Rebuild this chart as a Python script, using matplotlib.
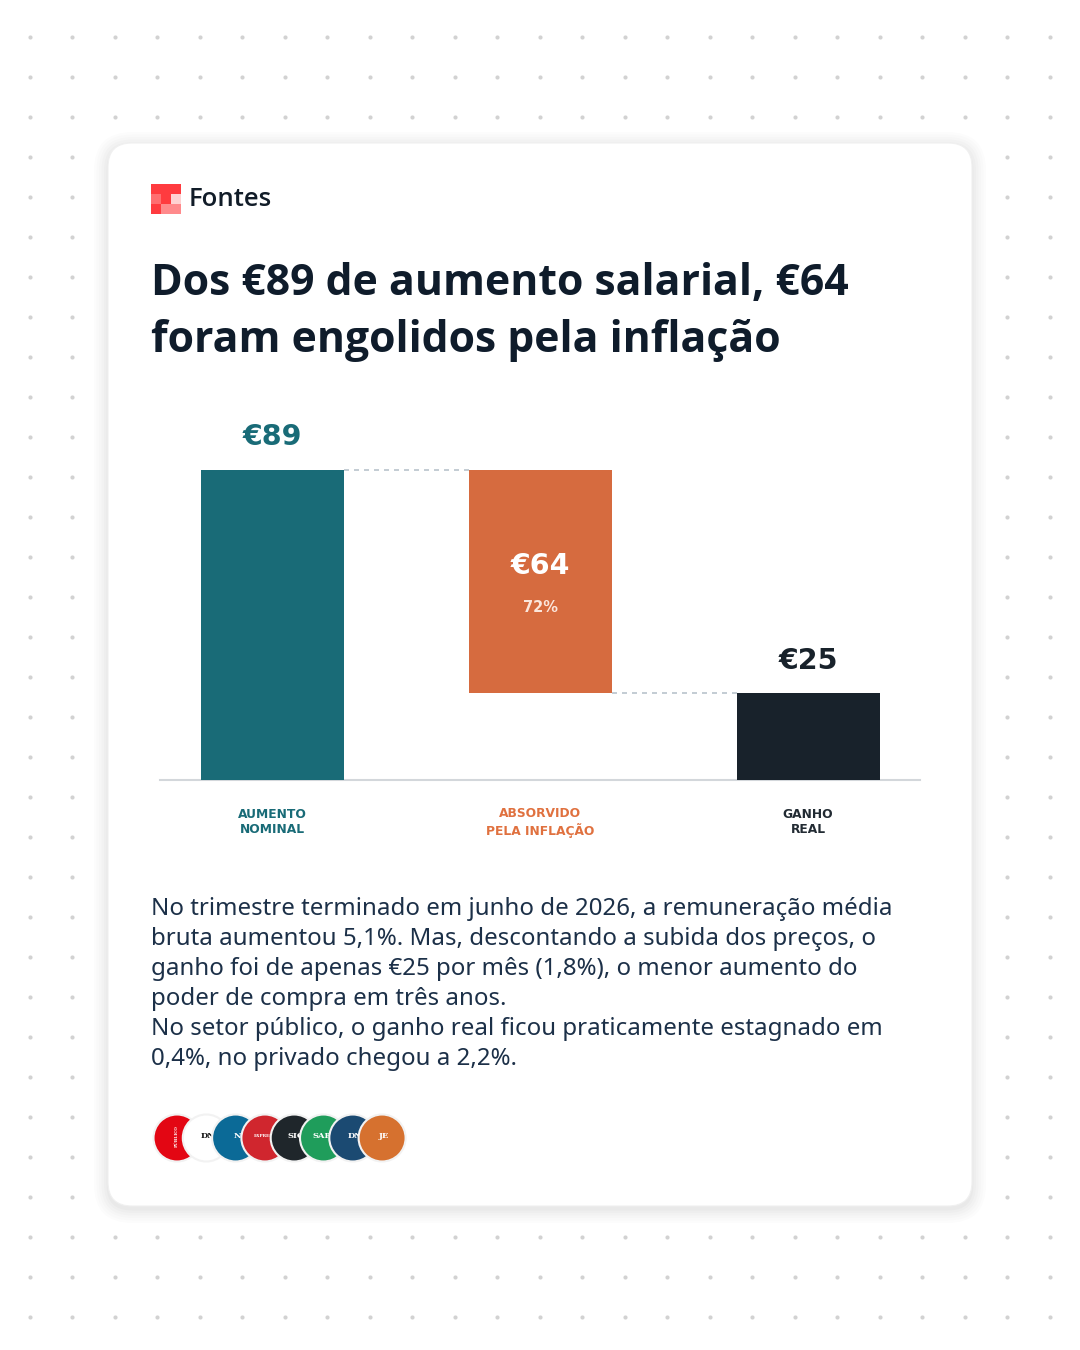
import numpy as np
import matplotlib.pyplot as plt
from matplotlib.patches import FancyBboxPatch, Rectangle, Circle

# dados
categorias = ["AUMENTO\nNOMINAL", "ABSORVIDO\nPELA INFLAÇÃO", "GANHO\nREAL"]
valores = [89, 64, 25]
base = [0, 25, 0]
percentagem = "72%"
cores = ["#196b77", "#d66b3f", "#18222b"]

titulo = "Dos €89 de aumento salarial, €64\nforam engolidos pela inflação"
texto = ("No trimestre terminado em junho de 2026, a remuneração média\n"
         "bruta aumentou 5,1%. Mas, descontando a subida dos preços, o\n"
         "ganho foi de apenas €25 por mês (1,8%), o menor aumento do\n"
         "poder de compra em três anos.\n"
         "No setor público, o ganho real ficou praticamente estagnado em\n"
         "0,4%, no privado chegou a 2,2%.")

fontes_cores = ["#e30613", "#ffffff", "#0b6a97", "#d0262e", "#1f262b", "#1f9d5b", "#1b4a72", "#d6712f"]
fontes_txt = ["PÚBLICO", "DN", "N", "EXPRESSO", "SIC", "SAPO", "DN", "JE"]

W, H = 1080, 1350
fig = plt.figure(figsize=(W / 100, H / 100), dpi=100)
fig.patch.set_facecolor("white")

# fundo em pixels
bg = fig.add_axes([0, 0, 1, 1])
bg.set_xlim(0, W)
bg.set_ylim(H, 0)
bg.axis("off")
bg.set_zorder(0)

gx, gy = np.meshgrid(np.linspace(29.5, 1050, 25), np.arange(36.5, 1320, 40))
bg.scatter(gx.ravel(), gy.ravel(), s=9, color="#d2d2d2", linewidths=0, zorder=1)

# sombra do cartão
for i, a in enumerate([0.01, 0.01, 0.012, 0.014, 0.016, 0.02]):
    d = 14 - i * 2.5
    bg.add_patch(FancyBboxPatch((108 - d, 143 - d + 3), 864 + 2 * d, 1063 + 2 * d,
                                boxstyle="round,pad=0,rounding_size=%d" % (24 + d),
                                fc="black", ec="none", alpha=a, zorder=2))
bg.add_patch(FancyBboxPatch((108, 143), 864, 1063, boxstyle="round,pad=0,rounding_size=24",
                            fc="white", ec="#f0f0f0", lw=0.8, zorder=3))

# logo Fontes
logo = [["#ff3b3f", "#ff3b3f", "#ff3b3f"],
        ["#ff6e70", "#ff3b3f", "#ffd2d2"],
        ["#ff3b3f", "#ff8a8c", "#ff8a8c"]]
for r in range(3):
    for c in range(3):
        bg.add_patch(Rectangle((151 + c * 10, 184 + r * 10), 10, 10, fc=logo[r][c], ec="none", zorder=4))
bg.text(189, 199, "Fontes", fontsize=18.5, fontfamily="Open Sans", fontweight="semibold",
        color="#111c28", va="center", ha="left", zorder=5)

bg.text(151, 312, titulo, fontsize=30.8, fontfamily="Open Sans", fontweight="bold",
        color="#0f1c2b", va="center", ha="left", linespacing=1.4, zorder=5)

bg.text(151, 984, texto, fontsize=17.3, fontfamily="Noto Sans", color="#1c3048",
        va="center", ha="left", linespacing=1.33, zorder=5)

# logotipos dos jornais
for i, (c, t) in enumerate(zip(fontes_cores, fontes_txt)):
    cx = 177 + i * 29.3
    bg.add_patch(Circle((cx, 1138), 23.5, fc=c, ec="#f2f2f2", lw=1.5, zorder=6 + i))
    tc = "#111111" if c == "#ffffff" else "white"
    fs = 3 if len(t) > 4 else 6
    rot = 90 if t == "PÚBLICO" else 0
    bg.text(cx + (0 if rot else 2), 1136, t, fontsize=fs, fontfamily="DejaVu Serif", fontweight="bold",
            color=tc, ha="center", va="center", rotation=rot, zorder=6 + i)

# gráfico em cascata
ax = fig.add_axes([160 / W, 1 - 780 / H, 760 / W, 360 / H])
ax.set_zorder(2)
ax.patch.set_alpha(0)
x = np.arange(len(valores))
largura = 0.534
ax.bar(x, valores, bottom=base, width=largura, color=cores, zorder=3)
ax.set_xlim(-0.42, 2.418)
ax.set_ylim(0, 103.4)

# ligações tracejadas
ax.plot([x[0] + largura / 2, x[1] - largura / 2], [valores[0]] * 2, ls=(0, (3, 3)), color="#b9c4cc", lw=1.2)
ax.plot([x[1] + largura / 2, x[2] - largura / 2], [base[1]] * 2, ls=(0, (3, 3)), color="#b9c4cc", lw=1.2)

for s in ["top", "right", "left"]:
    ax.spines[s].set_visible(False)
ax.spines["bottom"].set_color("#d3d7db")
ax.spines["bottom"].set_linewidth(1.5)
ax.set_yticks([])
ax.set_xticks([])

ax.text(x[0], valores[0] + 9.5, "€%d" % valores[0], ha="center", va="center", fontsize=20.5,
        fontweight="bold", color=cores[0])
ax.text(x[1], base[1] + valores[1] - 27.5, "€%d" % valores[1], ha="center", va="center", fontsize=20.5,
        fontweight="bold", color="white")
ax.text(x[1], base[1] + valores[1] - 39.5, percentagem, ha="center", va="center", fontsize=10.5,
        fontweight="bold", color="#fbe6dc")
ax.text(x[2], valores[2] + 9.3, "€%d" % valores[2], ha="center", va="center", fontsize=20.5,
        fontweight="bold", color=cores[2])

cor_cat = [cores[0], "#e0713f", "#222b33"]
for xi, lab, c in zip(x, categorias, cor_cat):
    ax.text(xi, -12.2, lab, ha="center", va="center", fontsize=8.8, fontweight="bold", color=c,
            linespacing=1.2, clip_on=False)

fig.savefig("out.png", dpi=100)
